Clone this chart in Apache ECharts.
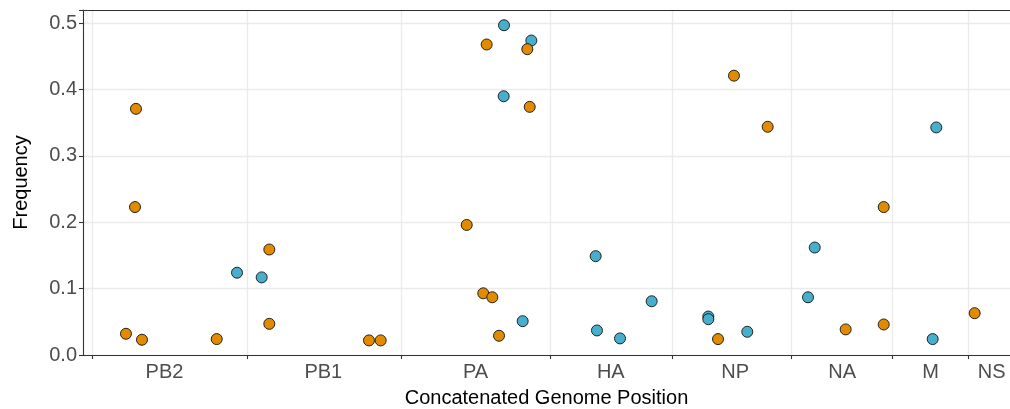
<!DOCTYPE html>
<html>
<head>
<meta charset="utf-8">
<script src="https://cdn.jsdelivr.net/npm/echarts@6/dist/echarts.min.js"></script>
<style>
html,body{margin:0;padding:0;background:#fff;}
#chart{width:1010px;height:409px;}
</style>
</head>
<body>
<div id="chart"></div>
<script>
// Segment names and concatenated boundaries (nt)
var segmentNames = ['PB2','PB1','PA','HA','NP','NA','M','NS'];
var segmentBoundaries = [0, 2396, 4782, 7090, 8972, 10813, 12370, 13561];
var segmentLabelPositions = [1111, 3570, 5926, 8020, 9947, 11602, 12969, 13917];
var yTicks = [0, 0.1, 0.2, 0.3, 0.4, 0.5];

// Blue series: [position, frequency]
var bluePositions = [2234, 2616, 6362, 6367, 6656, 6790, 7786, 7806, 8163, 8653, 9530, 9530, 10133, 11073, 11177, 13003, 13059];
var blueFreqs     = [0.124, 0.117, 0.390, 0.497, 0.051, 0.474, 0.149, 0.037, 0.025, 0.081, 0.058, 0.054, 0.035, 0.087, 0.162, 0.024, 0.343];

// Orange series
var orangePositions = [515, 670, 655, 763, 1920, 2734, 2734, 4277, 4458, 5790, 6046, 6099, 6186, 6290, 6728, 6765, 9680, 9927, 10449, 11656, 12245, 12245, 13653];
var orangeFreqs     = [0.032, 0.371, 0.223, 0.023, 0.024, 0.159, 0.047, 0.022, 0.022, 0.196, 0.093, 0.468, 0.087, 0.029, 0.461, 0.374, 0.024, 0.421, 0.344, 0.0386, 0.223, 0.046, 0.063];

function zip(a, b){ return a.map(function(v,i){ return [v, b[i]]; }); }

var chart = echarts.init(document.getElementById('chart'), null, {renderer:'canvas'});
var FONT = 'Liberation Sans, Arial, sans-serif';
var xMin = -150, xMax = 14200;

var option = {
  animation: false,
  backgroundColor: '#ffffff',
  grid: { left: 83, right: 0, top: 10, bottom: 54, containLabel: false, outerBoundsMode: 'none' },
  xAxis: [{
    type: 'value', min: xMin, max: xMax, position: 'bottom',
    name: 'Concatenated Genome Position', nameLocation: 'middle', nameGap: 33,
    nameTextStyle: { color: '#000', fontSize: 20, fontFamily: FONT },
    axisLine: { show: true, onZero: false, lineStyle: { color: '#333', width: 1.1 } },
    axisTick: { show: true, length: 4, lineStyle: { color: '#333', width: 1.1 }, customValues: segmentBoundaries },
    splitLine: { show: true, lineStyle: { color: '#EBEBEB', width: 1.3 } },
    axisLabel: {
      show: true, margin: 7, color: '#4D4D4D', fontSize: 20, fontFamily: FONT,
      customValues: segmentLabelPositions,
      formatter: function(v){ var i = segmentLabelPositions.indexOf(v); return i >= 0 ? segmentNames[i] : ''; }
    }
  }, {
    type: 'value', min: xMin, max: xMax, position: 'top',
    axisLine: { show: true, onZero: false, lineStyle: { color: '#333', width: 1.1 } },
    axisTick: { show: false }, axisLabel: { show: false }, splitLine: { show: false }
  }],
  yAxis: {
    type: 'value', min: 0, max: 0.52, interval: 0.1,
    name: 'Frequency', nameLocation: 'middle', nameGap: 52, nameRotate: 90,
    nameTextStyle: { color: '#000', fontSize: 20, fontFamily: FONT },
    axisLine: { show: true, onZero: false, lineStyle: { color: '#333', width: 1.1 } },
    axisTick: { show: true, length: 4, lineStyle: { color: '#333', width: 1.1 } },
    splitLine: { show: true, lineStyle: { color: '#EBEBEB', width: 1.3 } },
    axisLabel: {
      margin: 6, color: '#4D4D4D', fontSize: 20, fontFamily: FONT,
      customValues: yTicks,
      formatter: function(v){ return v.toFixed(1); }
    }
  },
  series: [{
    type: 'scatter', name: 'blue', data: zip(bluePositions, blueFreqs),
    symbolSize: 11,
    itemStyle: { color: '#47AFCB', borderColor: '#111', borderWidth: 0.9, opacity: 1 },
    emphasis: { disabled: true }
  }, {
    type: 'scatter', name: 'orange', data: zip(orangePositions, orangeFreqs),
    symbolSize: 11,
    itemStyle: { color: '#E38B00', borderColor: '#111', borderWidth: 0.9, opacity: 1 },
    emphasis: { disabled: true }
  }]
};
chart.setOption(option);
</script>
</body>
</html>
